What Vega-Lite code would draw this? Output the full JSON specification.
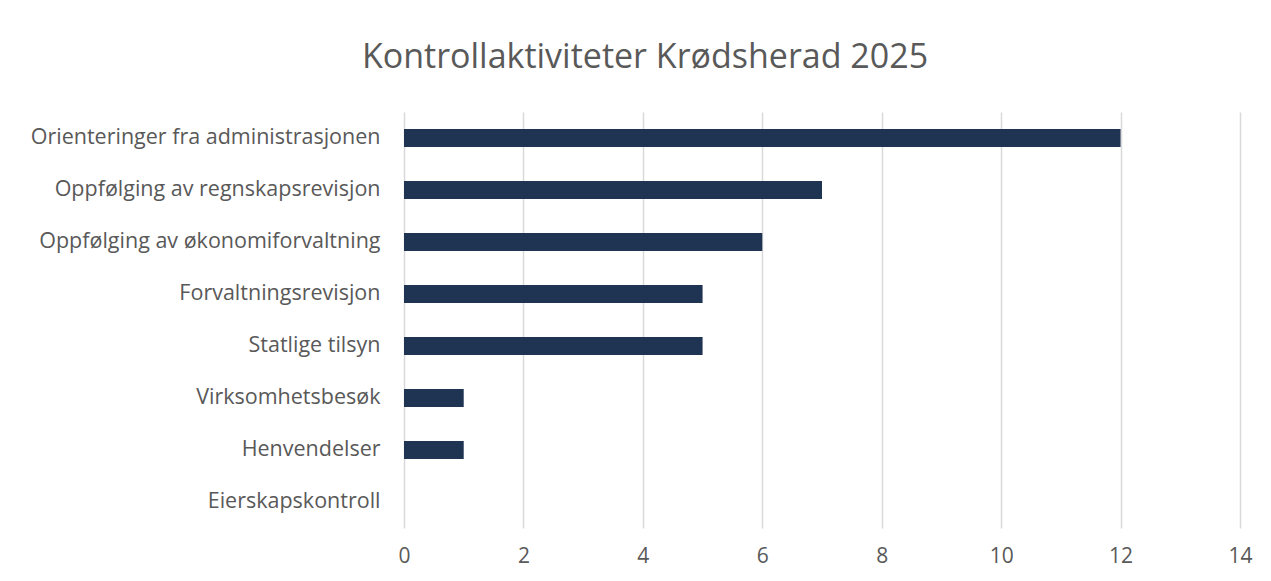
{
  "$schema": "https://vega.github.io/schema/vega-lite/v6.json",
  "width": 836,
  "height": 416,
  "autosize": {"type": "none"},
  "padding": {"left": 404, "top": 112, "right": 31, "bottom": 53},
  "background": "white",
  "title": {
    "text": "Kontrollaktiviteter Krødsherad 2025",
    "fontSize": 34,
    "font": "Open Sans",
    "fontWeight": "normal",
    "color": "#595959",
    "anchor": "middle",
    "frame": "group",
    "dx": -177,
    "offset": 37
  },
  "data": {
    "values": [
      {"kategori": "Orienteringer fra administrasjonen", "antall": 12},
      {"kategori": "Oppfølging av regnskapsrevisjon", "antall": 7},
      {"kategori": "Oppfølging av økonomiforvaltning", "antall": 6},
      {"kategori": "Forvaltningsrevisjon", "antall": 5},
      {"kategori": "Statlige tilsyn", "antall": 5},
      {"kategori": "Virksomhetsbesøk", "antall": 1},
      {"kategori": "Henvendelser", "antall": 1},
      {"kategori": "Eierskapskontroll", "antall": 0}
    ]
  },
  "mark": {"type": "bar", "color": "#1f3352", "size": 18},
  "encoding": {
    "y": {
      "field": "kategori",
      "type": "nominal",
      "sort": null,
      "scale": {"paddingInner": 0.65, "paddingOuter": 0.325},
      "axis": {
        "title": null,
        "ticks": false,
        "domain": false,
        "labelFontSize": 21.5,
        "labelFont": "Open Sans",
        "labelColor": "#595959",
        "labelPadding": 24,
        "labelLimit": 400
      }
    },
    "x": {
      "field": "antall",
      "type": "quantitative",
      "scale": {"domain": [0, 14], "nice": false},
      "axis": {
        "title": null,
        "values": [0, 2, 4, 6, 8, 10, 12, 14],
        "ticks": false,
        "domain": false,
        "grid": true,
        "gridColor": "#d9d9d9",
        "gridWidth": 1.5,
        "labelFlush": false,
        "labelFontSize": 21,
        "labelFont": "Open Sans",
        "labelColor": "#595959",
        "labelPadding": 17
      }
    }
  },
  "config": {"view": {"stroke": null}}
}
